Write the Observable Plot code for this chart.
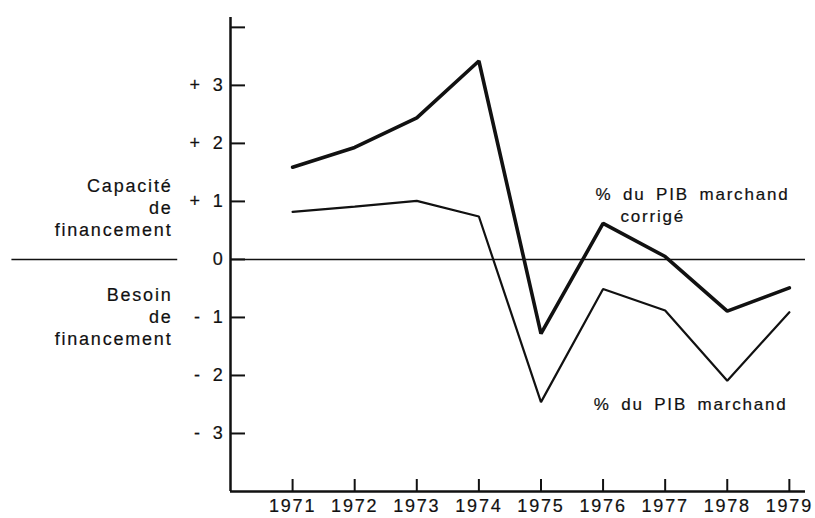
<!DOCTYPE html>
<html>
<head>
<meta charset="utf-8">
<script src="https://cdn.jsdelivr.net/npm/d3@7"></script>
<script src="https://cdn.jsdelivr.net/npm/@observablehq/plot@0.6"></script>
<style>
  html, body { margin: 0; padding: 0; background: #fff; }
  #chart svg { display: block; }
  #chart svg text { stroke: #111; stroke-width: 0.2px; }
</style>
</head>
<body>
<div id="chart"></div>
<script>
// ---- data ----
const years = [1971, 1972, 1973, 1974, 1975, 1976, 1977, 1978, 1979];
// % du PIB marchand corrigé (thick line)
const pibMarchandCorrige = [1.59, 1.93, 2.44, 3.42, -1.28, 0.62, 0.05, -0.89, -0.49];
// % du PIB marchand (thin line)
const pibMarchand = [0.82, 0.91, 1.01, 0.74, -2.46, -0.51, -0.88, -2.09, -0.91];

const yTickValues = [-3, -2, -1, 0, 1, 2, 3, 4];
const yTickLabels = ["- 3", "- 2", "- 1", "0", "+ 1", "+ 2", "+ 3", ""];
const xTickLabels = ["1971", "1972", "1973", "1974", "1975", "1976", "1977", "1978", "1979"];

const upperLabel = "Capacité\nde\nfinancement";
const lowerLabel = "Besoin\nde\nfinancement";
const seriesLabelCorrige1 = "% du PIB marchand";
const seriesLabelCorrige2 = "corrigé";
const seriesLabelMarchand = "% du PIB marchand";

// ---- table built from the arrays ----
const table = years.map((year, i) => ({
  year,
  corrige: pibMarchandCorrige[i],
  marchand: pibMarchand[i]
}));

const font = "'Liberation Sans', Arial, Helvetica, sans-serif";
const fs = 18;

const chart = Plot.plot({
  width: 815,
  height: 518,
  marginLeft: 230,
  marginRight: 10,
  marginTop: 17,
  marginBottom: 27,
  style: {
    fontFamily: font,
    fontSize: fs + "px",
    letterSpacing: "1.8px",
    wordSpacing: "4px",
    color: "#111",
    background: "#fff",
    overflow: "visible"
  },
  x: { domain: [1970, 1979.26], axis: null },
  y: { domain: [-4, 4.17], axis: null },
  marks: [
    // axes frame
    Plot.ruleX([1970], { stroke: "#111", strokeWidth: 2.5 }),
    Plot.ruleY([-4], { stroke: "#111", strokeWidth: 2.5 }),
    // zero line and its left-hand separator
    Plot.ruleY([0], { stroke: "#111", strokeWidth: 1.5 }),
    Plot.ruleY([0], { x1: 1966.48, x2: 1969.15, stroke: "#111", strokeWidth: 1.5 }),
    // y axis: inward ticks
    Plot.axisY(yTickValues, {
      anchor: "left",
      tickSize: -15,
      tickPadding: 21,
      strokeWidth: 2,
      stroke: "#111",
      fill: "#111",
      fontSize: fs,
      tickFormat: (d) => yTickLabels[yTickValues.indexOf(d)],
      label: null
    }),
    // x axis: inward ticks
    Plot.axisX(years, {
      anchor: "bottom",
      tickSize: -12,
      tickPadding: 20,
      strokeWidth: 2,
      stroke: "#111",
      fill: "#111",
      fontSize: fs,
      tickFormat: (d) => xTickLabels[years.indexOf(d)],
      label: null
    }),
    // series
    Plot.line(table, { x: "year", y: "marchand", stroke: "#111", strokeWidth: 2.2, strokeLinejoin: "miter" }),
    Plot.line(table, { x: "year", y: "corrige", stroke: "#111", strokeWidth: 3.6, strokeLinejoin: "miter" }),
    // left side labels
    Plot.text([upperLabel], {
      text: (d) => d, y: [0.9], frameAnchor: "left", textAnchor: "end",
      dx: -58, lineHeight: 1.22, fontSize: fs, fill: "#111"
    }),
    Plot.text([lowerLabel], {
      text: (d) => d, y: [-0.98], frameAnchor: "left", textAnchor: "end",
      dx: -58, lineHeight: 1.22, fontSize: fs, fill: "#111"
    }),
    // series labels
    Plot.text([seriesLabelCorrige1], { text: (d) => d, x: [1975.88], y: [1.12], textAnchor: "start", fontSize: 17, fill: "#111" }),
    Plot.text([seriesLabelCorrige2], { text: (d) => d, x: [1976.28], y: [0.74], textAnchor: "start", fontSize: 17, fill: "#111" }),
    Plot.text([seriesLabelMarchand], { text: (d) => d, x: [1975.85], y: [-2.5], textAnchor: "start", fontSize: 17, fill: "#111" })
  ]
});

document.getElementById("chart").appendChild(chart);
</script>
</body>
</html>
